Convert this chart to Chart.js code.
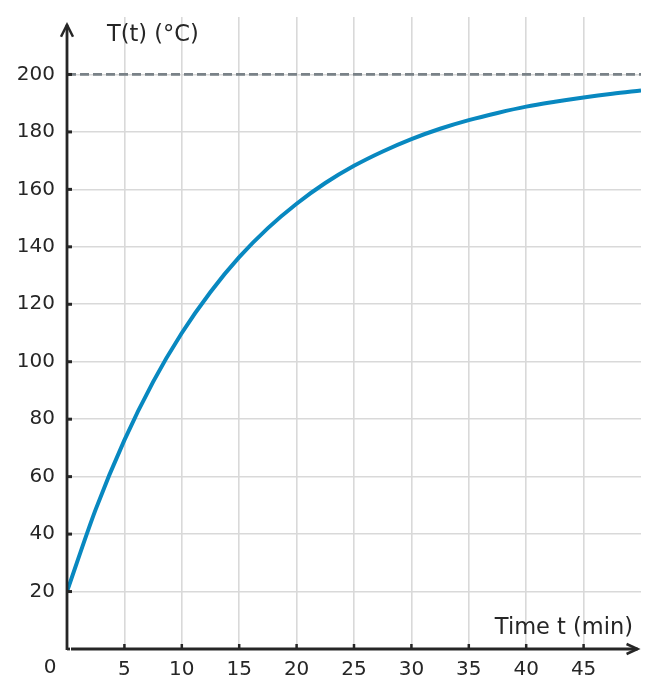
<!DOCTYPE html>
<html>
<head>
<meta charset="utf-8">
<script src="https://cdn.jsdelivr.net/npm/chart.js@4/dist/chart.umd.min.js"></script>
<style>
    body { margin: 0; background: #fff; }
    #wrap { width: 659px; height: 697px; }
</style>
</head>
<body>
<div id="wrap"><canvas id="chart" width="659" height="697"></canvas></div>
<script>
// Heating curve (minutes vs. degrees C)
const times = [0, 2.5, 5, 7.5, 10, 12.5, 15, 17.5, 20, 22.5, 25, 27.5, 30, 32.5, 35, 37.5, 40, 42.5, 45, 47.5, 50];
const temps = [20, 48.6, 72.7, 93, 110, 124.3, 136.4, 146.5, 155, 162.2, 168.2, 173.2, 177.5, 181.1, 184.1, 186.6, 188.8, 190.5, 192.0, 193.3, 194.4];
const asymptote = 200;

// Axis ranges and tick steps
const xRange = [0, 50];
const yRange = [0, 220];
const xStep = 5;
const yStep = 20;

const ink = '#262626';
const gridColor = '#d9d9d9';
const fontFamily = "'DejaVu Sans', sans-serif";

// Draws the arrowed axes, small tick marks, origin label and axis titles
const axesPlugin = {
    id: 'axesPlugin',
    afterDraw(chart) {
        const ctx = chart.ctx;
        const xs = chart.scales.x;
        const ys = chart.scales.y;
        const x0 = xs.getPixelForValue(0);
        const y0 = ys.getPixelForValue(0);
        const yTop = ys.getPixelForValue(217.3);
        const xEnd = xs.getPixelForValue(49.7);

        ctx.save();
        ctx.strokeStyle = ink;
        ctx.lineWidth = 2.8;
        ctx.lineCap = 'butt';

        // y axis with a tiny foot at the origin
        ctx.beginPath();
        ctx.moveTo(x0, y0 + 1);
        ctx.lineTo(x0, yTop);
        ctx.stroke();
        ctx.beginPath();
        ctx.moveTo(x0, y0);
        ctx.lineTo(x0 + 3, y0);
        ctx.stroke();

        // x axis
        ctx.beginPath();
        ctx.moveTo(x0 + 4, y0);
        ctx.lineTo(xEnd, y0);
        ctx.stroke();

        // arrow heads
        ctx.lineWidth = 2.5;
        ctx.lineJoin = 'miter';
        ctx.beginPath();
        ctx.moveTo(x0 - 6, yTop + 12);
        ctx.lineTo(x0, yTop);
        ctx.lineTo(x0 + 6, yTop + 12);
        ctx.stroke();
        ctx.beginPath();
        ctx.moveTo(xEnd - 11, y0 - 5);
        ctx.lineTo(xEnd, y0);
        ctx.lineTo(xEnd - 11, y0 + 5);
        ctx.stroke();

        // tick marks
        ctx.lineWidth = 2.5;
        for (let v = xStep; v < xRange[1]; v += xStep) {
            const px = xs.getPixelForValue(v);
            ctx.beginPath();
            ctx.moveTo(px, y0);
            ctx.lineTo(px, y0 - 5);
            ctx.stroke();
        }
        ctx.lineWidth = 3;
        for (let v = yStep; v <= asymptote; v += yStep) {
            const py = ys.getPixelForValue(v);
            ctx.beginPath();
            ctx.moveTo(x0, py);
            ctx.lineTo(x0 + 5, py);
            ctx.stroke();
        }

        // origin label and axis titles
        ctx.fillStyle = ink;
        ctx.font = '20px ' + fontFamily;
        ctx.textAlign = 'center';
        ctx.textBaseline = 'middle';
        ctx.fillText('0', x0 - 17, y0 + 19);

        ctx.font = '22.5px ' + fontFamily;
        ctx.textAlign = 'left';
        ctx.fillText('T(t) (°C)', x0 + 40, 35);
        ctx.textAlign = 'right';
        ctx.fillText('Time t (min)', xs.right - 8, y0 - 21);
        ctx.restore();
    }
};

const ctx = document.getElementById('chart').getContext('2d');

new Chart(ctx, {
    type: 'line',
    data: {
        datasets: [
            {
                label: 'T(t)',
                data: times.map((t, i) => ({ x: t, y: temps[i] })),
                borderColor: '#0888c0',
                borderWidth: 4,
                pointRadius: 0,
                cubicInterpolationMode: 'monotone',
                fill: false,
                order: 1
            },
            {
                label: 'asymptote',
                data: [{ x: xRange[0], y: asymptote }, { x: xRange[1], y: asymptote }],
                borderColor: '#7a8288',
                borderWidth: 2.7,
                borderDash: [9, 4],
                pointRadius: 0,
                fill: false,
                order: 2
            }
        ]
    },
    options: {
        responsive: false,
        animation: false,
        layout: {
            padding: { top: 17, right: 18, bottom: 0, left: 0 }
        },
        plugins: {
            legend: { display: false },
            tooltip: { enabled: false }
        },
        scales: {
            x: {
                type: 'linear',
                min: xRange[0],
                max: xRange[1],
                afterFit: function(scale) {
                    scale.height = 48;
                    scale.paddingLeft = 0;
                    scale.paddingRight = 0;
                },
                border: { display: false },
                grid: {
                    drawTicks: false,
                    lineWidth: 1.6,
                    color: function(c) {
                        const v = c.tick && c.tick.value;
                        return (v === xRange[0] || v === xRange[1]) ? 'rgba(0,0,0,0)' : gridColor;
                    }
                },
                ticks: {
                    stepSize: xStep,
                    autoSkip: false,
                    maxRotation: 0,
                    padding: 9,
                    color: ink,
                    font: { family: fontFamily, size: 20 },
                    callback: function(value) {
                        return (value === xRange[0] || value === xRange[1]) ? '' : value;
                    }
                }
            },
            y: {
                min: yRange[0],
                max: yRange[1],
                afterFit: function(scale) {
                    scale.width = 67;
                    scale.paddingTop = 0;
                    scale.paddingBottom = 0;
                },
                border: { display: false },
                grid: {
                    drawTicks: false,
                    lineWidth: 1.6,
                    color: function(c) {
                        const v = c.tick && c.tick.value;
                        return (v === yRange[0] || v === yRange[1]) ? 'rgba(0,0,0,0)' : gridColor;
                    }
                },
                ticks: {
                    stepSize: yStep,
                    autoSkip: false,
                    padding: 12,
                    color: ink,
                    font: { family: fontFamily, size: 20 },
                    callback: function(value) {
                        return (value === yRange[0] || value === yRange[1]) ? '' : value;
                    }
                }
            }
        }
    },
    plugins: [axesPlugin]
});
</script>
</body>
</html>
